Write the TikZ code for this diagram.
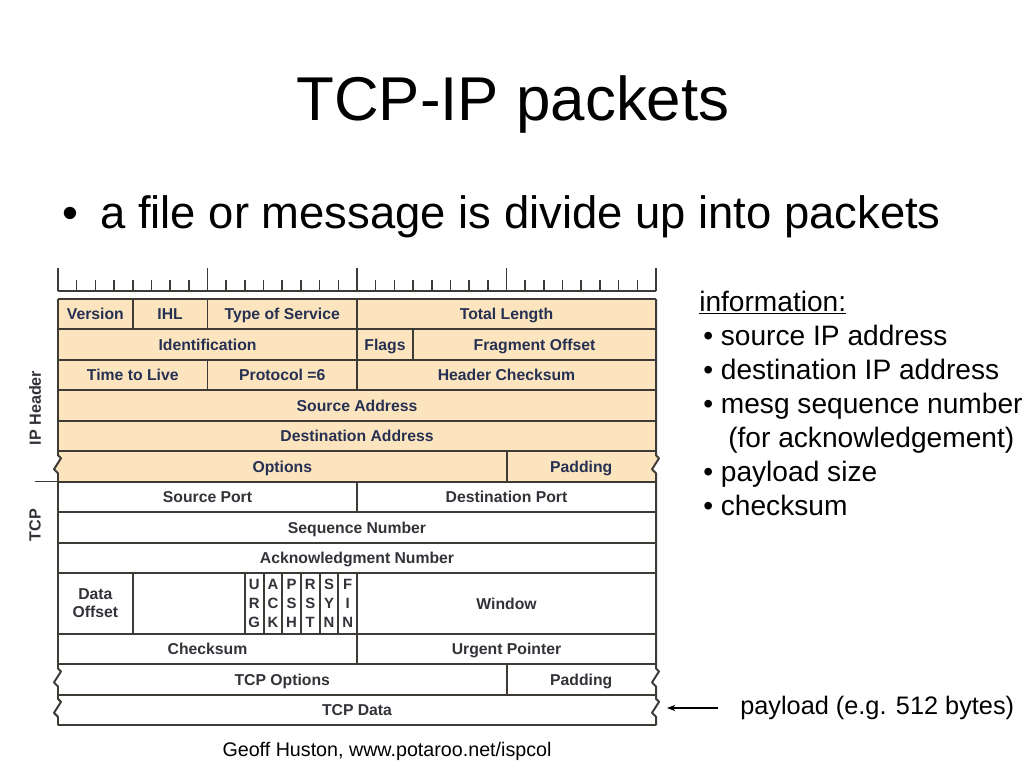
\documentclass[tikz,border=0pt]{standalone}
\usepackage{fontspec}
\setmainfont{Liberation Sans}
\usetikzlibrary{arrows.meta,positioning,calc}
\usepackage{xcolor}
\definecolor{HdrFill}{RGB}{252,229,190}
\definecolor{HdrInk}{RGB}{38,48,82}
\definecolor{TcpInk}{RGB}{50,50,56}
\definecolor{Rule}{RGB}{62,58,54}
\tikzset{
  field/.style={font=\fontsize{11.2}{13}\selectfont\bfseries,text=HdrInk,
                inner sep=0pt,text height=8pt,text depth=0pt},
  tfield/.style={field,text=TcpInk},
  flagcol/.style={inner sep=0pt,align=center,text=TcpInk,
                  font=\fontsize{10.6}{13.5}\selectfont\bfseries},
  gridline/.style={Rule,line width=1.4pt,line join=round},
  rulertick/.style={Rule,line width=1.1pt},
  sidelabel/.style={font=\fontsize{11.5}{13}\selectfont\bfseries,text=TcpInk,
                    rotate=90,inner sep=0pt},
  titletext/.style={inner sep=0pt,anchor=base,font=\fontsize{44}{50}\selectfont},
  leadtext/.style={inner sep=0pt,anchor=base west,font=\fontsize{32.3}{36}\selectfont},
  infotext/.style={inner sep=0pt,anchor=base west,font=\fontsize{20}{24}\selectfont},
  pointer/.style={-{Stealth[length=6pt,width=4.5pt]},black,line width=0.8pt},
}
% broken-edge wiggle, 22px tall, going down / going up
\newcommand\wigdn{-- ++(0pt,-2.85pt) -- ++(2.13pt,-2.13pt) -- ++(-4.98pt,-7.82pt) -- ++(2.85pt,-2.85pt)}
\newcommand\wigup{-- ++(-2.85pt,2.85pt) -- ++(4.98pt,7.82pt) -- ++(-2.13pt,2.13pt) -- ++(0pt,2.85pt)}

\begin{document}
\begin{tikzpicture}[x=0.25mm,y=-0.25mm]
  \useasboundingbox (0,0) rectangle (1024,768);

  \node[titletext] (title) at (513,120) {TCP-IP packets};
  \node[leadtext] (dot) at (62,228) {•};
  \node[leadtext] (lead) at (100,228) {a file or message is divide up into packets};

  \begin{scope}[shift={(58,299)},x=4.671875mm,y=-7.6125mm]
    % header background
    \fill[HdrFill] (0,0) -- (0,5) \wigdn -- (0,6) -- (32,6) -- (32,5.7225) \wigup -- (32,0) -- cycle;

    % bit ruler
    \draw[rulertick] (0,-0.263) -- (32,-0.263);
    \foreach \b in {0,...,32}
      \draw[rulertick] (\b,-0.263) -- (\b,-0.63);
    \foreach \b in {0,8,...,32}
      \draw[rulertick] (\b,-0.263) -- (\b,-1.02);

    % rows
    \foreach \r in {0,...,9,11,12,13,14}
      \draw[gridline] (0,\r) -- (32,\r);
    \draw[gridline] (0,0) -- (0,5) \wigdn -- (0,12) \wigdn -- (0,13) \wigdn -- (0,14);
    \draw[gridline] (32,0) -- (32,5) \wigdn -- (32,12) \wigdn -- (32,13) \wigdn -- (32,14);

    % field dividers
    \draw[gridline] (4,0) -- (4,1) (8,0) -- (8,1) (16,0) -- (16,1)
                    (16,1) -- (16,2) (19,1) -- (19,2)
                    (8,2) -- (8,3) (16,2) -- (16,3)
                    (24,5) -- (24,6)
                    (16,6) -- (16,7)
                    (16,11) -- (16,12)
                    (24,12) -- (24,13);
    \foreach \b in {4,10,11,...,16}
      \draw[gridline] (\b,9) -- (\b,11);

    % IP header fields
    \node[field] (version) at (2,0.5) {Version};
    \node[field] (ihl) at (6,0.5) {IHL};
    \node[field] (tos) at (12,0.5) {Type of Service};
    \node[field] (totlen) at (24,0.5) {Total Length};
    \node[field] (ident) at (8,1.5) {Identification};
    \node[field] (flags) at (17.5,1.5) {Flags};
    \node[field] (fragoff) at (25.5,1.5) {Fragment Offset};
    \node[field] (ttl) at (4,2.5) {Time to Live};
    \node[field] (proto) at (12,2.5) {Protocol =6};
    \node[field] (hdrsum) at (24,2.5) {Header Checksum};
    \node[field] (srcaddr) at (16,3.5) {Source Address};
    \node[field] (dstaddr) at (16,4.5) {Destination Address};
    \node[field] (options) at (12,5.5) {Options};
    \node[field] (ippad) at (28,5.5) {Padding};

    % TCP fields
    \node[tfield] (srcport) at (8,6.5) {Source Port};
    \node[tfield] (dstport) at (24,6.5) {Destination Port};
    \node[tfield] (seqnum) at (16,7.5) {Sequence Number};
    \node[tfield] (acknum) at (16,8.5) {Acknowledgment Number};
    \node[tfield,align=center,text height=,text depth=] (dataoff) at (2,10) {Data\\Offset};
    \foreach \nm/\a/\bb/\c [count=\k] in {urg/U/R/G,ack/A/C/K,psh/P/S/H,rst/R/S/T,syn/S/Y/N,fin/F/I/N}
      \node[flagcol] (\nm) at ({9.5+\k},10) {\a\\\bb\\\c};
    \node[tfield] (window) at (24,10) {Window};
    \node[tfield] (tcpsum) at (8,11.5) {Checksum};
    \node[tfield] (urgptr) at (24,11.5) {Urgent Pointer};
    \node[tfield] (tcpopts) at (12,12.5) {TCP Options};
    \node[tfield] (tcppad) at (28,12.5) {Padding};
    \node[tfield] (tcpdata) at (16,13.5) {TCP Data};

    % side labels
    \node[sidelabel] (iplabel) at (-1.23,3.58) {IP Header};
    \node[sidelabel] (tcplabel) at (-1.23,7.42) {TCP};
    \draw[Rule,line width=1pt] (-1.25,6) -- (0,6);
  \end{scope}

  % notes on the right
  \node[infotext] (info) at (699,311) {\underline{information:}};
  \node[infotext] (srcip) at (703,345) {• source IP address};
  \node[infotext] (dstip) at (703,379) {• destination IP address};
  \node[infotext] (seqno) at (703,413) {• mesg sequence number};
  \node[infotext] (ackno) at (728,447) {(for acknowledgement)};
  \node[infotext] (size) at (703,481) {• payload size};
  \node[infotext] (csum) at (703,515) {• checksum};

  \node[infotext,font=\fontsize{18}{22}\selectfont] (payload) at (740,714) {payload (e.g. 512 bytes)};
  \coordinate (datatip) at (667,708);
  \draw[pointer,shorten <=15.6pt] (datatip -| payload.west) -- (datatip);

  \node[inner sep=0pt,anchor=base,font=\fontsize{14}{16}\selectfont] (credit) at (387,756)
    {Geoff Huston, www.potaroo.net/ispcol};
\end{tikzpicture}
\end{document}
